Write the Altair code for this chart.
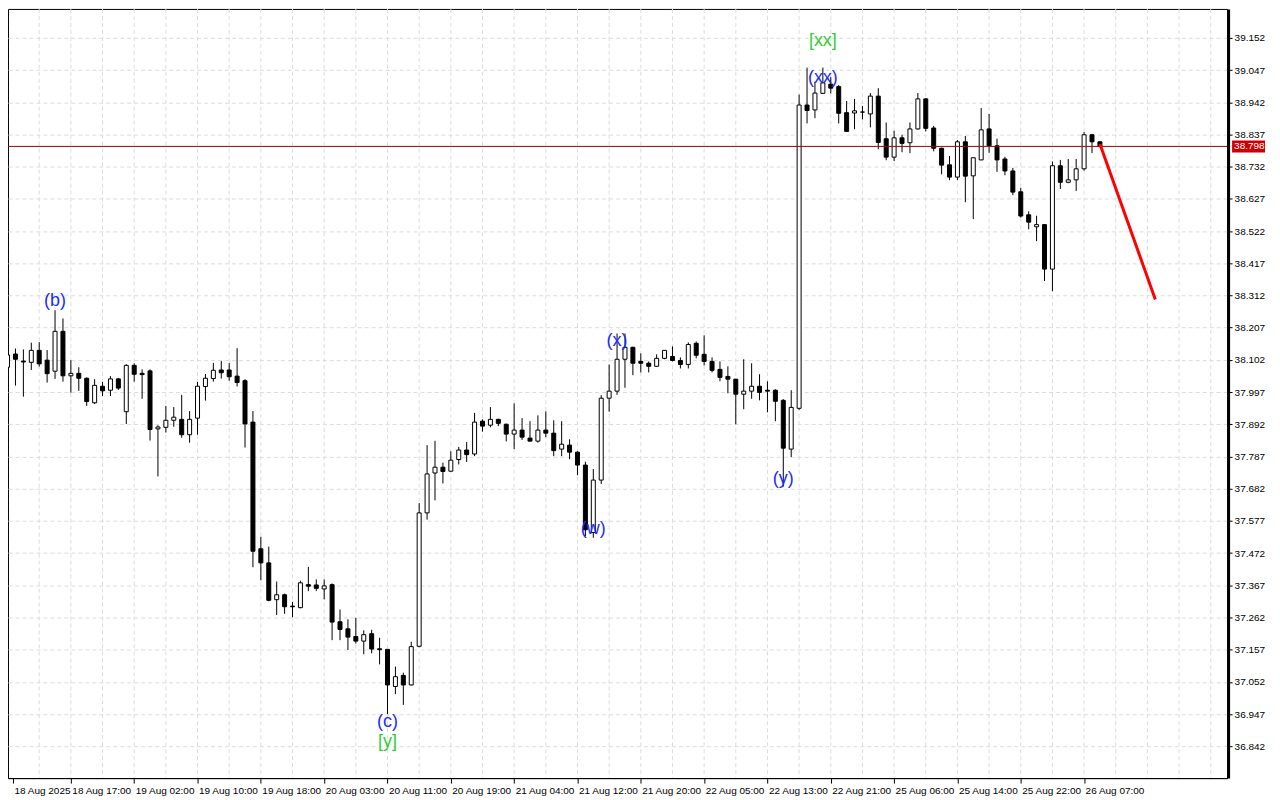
import altair as alt
import pandas as pd

# ---------------- data (hourly candles) ----------------
opens = [38.078, 38.121, 38.098, 38.094, 38.133, 38.101, 38.065, 38.195, 38.050, 38.058,
         38.042, 37.962, 38.016, 38.003, 38.040, 37.933, 38.084, 38.058, 38.066, 37.877,
         37.882, 37.905, 37.908, 37.858, 37.912, 38.015, 38.041, 38.069, 38.069, 38.049,
         38.034, 37.899, 37.486, 37.440, 37.320, 37.336, 37.299, 37.294, 37.369, 37.368,
         37.355, 37.369, 37.248, 37.225, 37.200, 37.185, 37.209, 37.160, 37.158, 37.037,
         37.073, 37.042, 37.168, 37.603, 37.733, 37.752, 37.739, 37.777, 37.808, 37.795,
         37.902, 37.889, 37.908, 37.892, 37.860, 37.873, 37.847, 37.837, 37.873, 37.863,
         37.811, 37.824, 37.801, 37.759, 37.539, 37.710, 37.977, 38.000, 38.104, 38.143,
         38.097, 38.091, 38.081, 38.107, 38.113, 38.100, 38.087, 38.156, 38.120, 38.097,
         38.071, 38.048, 38.039, 37.990, 38.000, 38.016, 38.003, 38.003, 37.970, 37.811,
         37.944, 38.933, 38.917, 38.971, 39.001, 38.993, 38.908, 38.907, 38.910, 38.904,
         38.962, 38.823, 38.763, 38.826, 38.810, 38.855, 38.953, 38.858, 38.792, 38.738,
         38.698, 38.813, 38.702, 38.754, 38.855, 38.800, 38.757, 38.718, 38.650, 38.575,
         38.536, 38.543, 38.398, 38.735, 38.681, 38.689, 38.725, 38.836, 38.813]
highs = [38.127, 38.139, 38.136, 38.158, 38.160, 38.134, 38.264, 38.237, 38.101, 38.078,
         38.045, 38.039, 38.030, 38.049, 38.043, 38.088, 38.091, 38.071, 38.071, 37.889,
         37.952, 37.948, 37.988, 37.935, 38.030, 38.056, 38.092, 38.098, 38.092, 38.140,
         38.039, 37.935, 37.525, 37.493, 37.379, 37.340, 37.313, 37.382, 37.427, 37.386,
         37.386, 37.373, 37.288, 37.256, 37.261, 37.220, 37.222, 37.196, 37.158, 37.102,
         37.082, 37.183, 37.635, 37.824, 37.838, 37.767, 37.804, 37.818, 37.834, 37.929,
         37.908, 37.948, 37.910, 37.894, 37.960, 37.912, 37.902, 37.921, 37.934, 37.905,
         37.902, 37.843, 37.804, 37.770, 37.746, 37.987, 38.087, 38.188, 38.188, 38.145,
         38.123, 38.097, 38.120, 38.134, 38.146, 38.110, 38.159, 38.162, 38.182, 38.110,
         38.097, 38.081, 38.040, 38.104, 38.091, 38.055, 38.032, 38.006, 37.974, 38.003,
         38.967, 39.055, 39.009, 39.055, 39.025, 38.998, 38.946, 38.953, 38.930, 38.972,
         38.988, 38.876, 38.849, 38.836, 38.876, 38.972, 38.955, 38.865, 38.794, 38.767,
         38.819, 38.832, 38.762, 38.923, 38.904, 38.823, 38.764, 38.728, 38.663, 38.586,
         38.572, 38.545, 38.749, 38.754, 38.757, 38.757, 38.845, 38.839, 38.815]
lows = [38.072, 38.018, 37.982, 38.069, 38.080, 38.028, 38.040, 38.031, 37.995, 38.001,
        37.952, 37.958, 37.984, 37.984, 38.004, 37.893, 38.031, 37.975, 37.839, 37.722,
        37.865, 37.884, 37.848, 37.832, 37.858, 37.969, 38.031, 38.041, 38.034, 38.015,
        37.816, 37.426, 37.383, 37.315, 37.270, 37.274, 37.263, 37.292, 37.348, 37.348,
        37.321, 37.188, 37.188, 37.156, 37.177, 37.142, 37.145, 37.109, 36.947, 37.012,
        36.977, 37.040, 37.165, 37.581, 37.644, 37.699, 37.737, 37.761, 37.769, 37.788,
        37.868, 37.882, 37.886, 37.836, 37.811, 37.841, 37.836, 37.832, 37.850, 37.788,
        37.788, 37.778, 37.726, 37.527, 37.522, 37.697, 37.933, 37.988, 38.011, 38.052,
        38.061, 38.061, 38.080, 38.104, 38.097, 38.074, 38.074, 38.107, 38.084, 38.061,
        38.032, 37.993, 37.892, 37.941, 37.975, 37.970, 37.931, 37.902, 37.689, 37.785,
        37.939, 38.873, 38.890, 38.969, 38.971, 38.873, 38.845, 38.854, 38.886, 38.860,
        38.789, 38.753, 38.750, 38.779, 38.776, 38.853, 38.847, 38.782, 38.707, 38.688,
        38.688, 38.616, 38.561, 38.753, 38.777, 38.715, 38.704, 38.639, 38.566, 38.528,
        38.489, 38.359, 38.326, 38.659, 38.678, 38.653, 38.719, 38.776, 38.796]
closes = [38.118, 38.104, 38.095, 38.133, 38.089, 38.057, 38.195, 38.050, 38.058, 38.042,
          37.966, 38.019, 38.001, 38.040, 38.010, 38.084, 38.055, 38.054, 37.875, 37.883,
          37.905, 37.915, 37.858, 37.908, 38.016, 38.042, 38.068, 38.060, 38.047, 38.028,
          37.893, 37.478, 37.440, 37.318, 37.336, 37.297, 37.297, 37.375, 37.364, 37.357,
          37.365, 37.247, 37.223, 37.198, 37.185, 37.206, 37.159, 37.157, 37.042, 37.069,
          37.042, 37.167, 37.603, 37.730, 37.752, 37.738, 37.775, 37.808, 37.793, 37.899,
          37.886, 37.908, 37.895, 37.860, 37.873, 37.850, 37.837, 37.873, 37.863, 37.806,
          37.827, 37.801, 37.759, 37.548, 37.710, 37.977, 38.000, 38.104, 38.143, 38.091,
          38.091, 38.081, 38.107, 38.133, 38.100, 38.087, 38.152, 38.117, 38.097, 38.068,
          38.045, 38.039, 37.990, 38.000, 38.016, 37.996, 38.000, 37.967, 37.814, 37.947,
          38.933, 38.915, 38.972, 39.005, 38.988, 38.906, 38.847, 38.914, 38.910, 38.962,
          38.811, 38.763, 38.826, 38.808, 38.855, 38.953, 38.857, 38.792, 38.737, 38.698,
          38.813, 38.701, 38.761, 38.852, 38.800, 38.754, 38.718, 38.649, 38.571, 38.551,
          38.543, 38.398, 38.735, 38.681, 38.689, 38.725, 38.836, 38.813, 38.798]

price_ticks = [36.842, 36.947, 37.052, 37.157, 37.262, 37.367, 37.472, 37.577, 37.682,
               37.787, 37.892, 37.997, 38.102, 38.207, 38.312, 38.417, 38.522, 38.627,
               38.732, 38.837, 38.942, 39.047, 39.152]
time_labels = ["18 Aug 2025", "18 Aug 17:00", "19 Aug 02:00", "19 Aug 10:00", "19 Aug 18:00",
               "20 Aug 03:00", "20 Aug 11:00", "20 Aug 19:00", "21 Aug 04:00", "21 Aug 12:00",
               "21 Aug 20:00", "22 Aug 05:00", "22 Aug 13:00", "22 Aug 21:00", "25 Aug 06:00",
               "25 Aug 14:00", "25 Aug 22:00", "26 Aug 07:00"]
time_label_bars = [0, 8, 16, 24, 32, 40, 48, 56, 64, 72, 80, 88, 96, 104, 112, 120, 128, 136]

wave_text = ["(b)", "(c)", "[y]", "(w)", "(x)", "(y)", "(xx)", "[xx]"]
wave_bar = [6, 48, 48, 74, 77, 98, 103, 103]
wave_price = [38.293, 36.920, 36.855, 37.552, 38.163, 37.714, 39.022, 39.142]
wave_kind = ["minor", "minor", "major", "minor", "minor", "minor", "minor", "major"]

forecast_bar = [138, 145]
forecast_price = [38.806, 38.299]
last_price = 38.798

# ---------------- layout ----------------
W, H = 1222, 771
BAR_PX = 8
XMIN = 0.6875
XMAX = XMIN + W / BAR_PX
YMIN, YMAX = 36.7382, 39.2463
FONT = "Liberation Sans"

xs = alt.Scale(domain=[XMIN, XMAX], nice=False, zero=False)
ys = alt.Scale(domain=[YMIN, YMAX], nice=False, zero=False)

n = len(opens)
df = pd.DataFrame({
    "bar": list(range(n)),
    "open": opens, "high": highs, "low": lows, "close": closes,
})
df["dir"] = ["up" if c >= o else "down" for o, c in zip(opens, closes)]

tick_vals = [max(v, XMIN) for v in time_label_bars]
label_expr = ("[" + ",".join("'%s'" % t for t in time_labels) + "][indexof(["
              + ",".join(str(v) for v in tick_vals) + "], datum.value)]")

x_axis = alt.Axis(values=tick_vals, labelExpr=label_expr, grid=False, tickSize=5,
                  tickColor="black", domainColor="black", labelAlign="left",
                  labelOffset=1, labelPadding=2, labelFlush=False, labelOverlap=False,
                  labelFont=FONT, labelFontSize=10, labelColor="black", title=None)
y_axis = alt.Axis(orient="right", values=price_ticks, format=".3f", grid=True,
                  gridColor="#dcdcdc", gridDash=[4, 3], gridWidth=1, tickSize=4,
                  tickColor="black", domainColor="black", domainWidth=3, offset=1,
                  labelFont=FONT, labelFontSize=10, labelColor="black", labelPadding=2,
                  labelOverlap=False, labelFlush=False, title=None)


def X(field):
    return alt.X(field, scale=xs, axis=x_axis)


def Y(field):
    return alt.Y(field, scale=ys, axis=y_axis)


grid_df = pd.DataFrame({"bar": list(range(0, int(XMAX) + 1, 4))})
vgrid = alt.Chart(grid_df).mark_rule(color="#dcdcdc", strokeDash=[4, 3], strokeWidth=1,
                                     clip=True).encode(x=X("bar:Q"))

wicks = alt.Chart(df).mark_rule(color="black", strokeWidth=1, clip=True).encode(
    x=X("bar:Q"), y=Y("low:Q"), y2="high:Q")

bodies = alt.Chart(df).mark_bar(size=4, stroke="black", strokeWidth=1, clip=True).encode(
    x=X("bar:Q"), y=Y("open:Q"), y2="close:Q",
    fill=alt.Fill("dir:N", scale=alt.Scale(domain=["up", "down"], range=["white", "black"]),
                  legend=None))

last_df = pd.DataFrame({"price": [last_price], "label": ["%.3f" % last_price]})
price_line = alt.Chart(last_df).mark_rule(color="#a80000", strokeWidth=1).encode(
    y=Y("price:Q"))
price_tag = alt.Chart(last_df).mark_rule(color="#cc0000", strokeWidth=12, strokeCap="butt",
                                         clip=False).encode(
    x=alt.value(W + 5), x2=alt.value(W + 38), y=Y("price:Q"))
price_text = alt.Chart(last_df).mark_text(color="white", font=FONT, fontSize=10, align="left",
                                          baseline="middle", clip=False).encode(
    x=alt.value(W + 7), y=Y("price:Q"), text="label:N")

fc_df = pd.DataFrame({"bar": forecast_bar, "price": forecast_price})
forecast = alt.Chart(fc_df).mark_line(color="#ff0000", strokeWidth=3).encode(
    x=X("bar:Q"), y=Y("price:Q"))

wave_df = pd.DataFrame({"bar": wave_bar, "price": wave_price, "text": wave_text,
                        "kind": wave_kind})
waves = alt.Chart(wave_df).mark_text(font=FONT, fontSize=18, align="center",
                                     baseline="middle").encode(
    x=X("bar:Q"), y=Y("price:Q"), text="text:N",
    color=alt.Color("kind:N", scale=alt.Scale(domain=["minor", "major"],
                                              range=["#1a2cff", "#33cc33"]), legend=None))

chart = alt.layer(vgrid, wicks, bodies, price_line, forecast, waves, price_tag,
                  price_text).properties(
    width=W, height=H,
    autosize=alt.AutoSizeParams(type="none"),
    padding={"left": 0, "top": 0, "right": 45, "bottom": 18},
    background="white",
).configure_view(stroke="black", strokeWidth=1)

chart.save("out.html", embed_options={"renderer": "svg", "actions": False})
